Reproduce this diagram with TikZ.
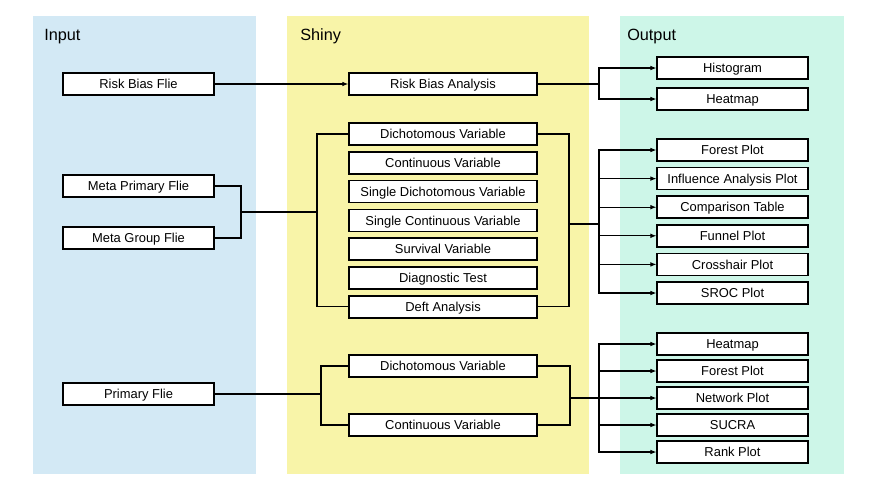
\documentclass[tikz,border=0pt]{standalone}
\usepackage{fontspec}
\setmainfont{Liberation Sans}
\usetikzlibrary{arrows.meta}
\definecolor{inblue}{HTML}{D3E9F5}
\definecolor{shyellow}{HTML}{F8F4A8}
\definecolor{outgreen}{HTML}{CDF6E8}

\begin{document}
\begin{tikzpicture}[x=0.75pt,y=-0.75pt,
        box/.style={draw,line width=1.1pt,fill=white,minimum width=113pt,minimum height=16.5pt,inner sep=0pt,text height=6.9pt,text depth=0pt,font=\fontsize{9.7}{11}\selectfont},
        wbox/.style={box,minimum width=141pt},
        paneltitle/.style={anchor=base west,inner sep=0pt,font=\fontsize{12.2}{14}\selectfont},
        link/.style={line width=0.8pt},
        arr/.style={link,-{Latex[length=4.5pt,width=3.5pt]}}]
        \useasboundingbox (0,0) rectangle (877,493);
        \fill[inblue] (33,16) rectangle (256,474);
        \fill[shyellow] (287,16) rectangle (589,474);
        \fill[outgreen] (620,16) rectangle (844,474);
        \node[paneltitle] (tin) at (44,40) {Input};
        \node[paneltitle] (tsh) at (300,40) {Shiny};
        \node[paneltitle] (tout) at (627,40) {Output};

        \node[box] (rbf) at (138.5,84) {Risk Bias Flie};
        \node[box] (mpf) at (138.5,186) {Meta Primary Flie};
        \node[box] (mgf) at (138.5,238) {Meta Group Flie};
        \node[box] (pf) at (138.5,394) {Primary Flie};

        \node[wbox] (rba) at (443,84) {Risk Bias Analysis};
        \foreach \i/\t in {0/Dichotomous Variable,1/Continuous Variable,2/Single Dichotomous Variable,3/Single Continuous Variable,4/Survival Variable,5/Diagnostic Test,6/Deft Analysis}
            \node[wbox] (m\i) at (443,134+28.8*\i) {\t};
        \node[wbox] (p0) at (443,366) {Dichotomous Variable};
        \node[wbox] (p1) at (443,425) {Continuous Variable};

        \node[box] (hist) at (732.5,68) {Histogram};
        \node[box] (heat) at (732.5,99) {Heatmap};
        \foreach \i/\t in {0/Forest Plot,1/Influence Analysis Plot,2/Comparison Table,3/Funnel Plot,4/Crosshair Plot,5/SROC Plot}
            \node[box] (mo\i) at (732.5,150+28.6*\i) {\t};
        \foreach \i/\t in {0/Heatmap,1/Forest Plot,2/Network Plot,3/SUCRA,4/Rank Plot}
            \node[box] (po\i) at (732.5,344+27*\i) {\t};

        \coordinate (ra) at (599,84);
        \coordinate (ma) at (241,212);
        \coordinate (mb) at (317,212);
        \coordinate (mc) at (569,224);
        \coordinate (md) at (599,224);
        \coordinate (pa) at (321,394);
        \coordinate (pb) at (570,398);
        \coordinate (pc) at (599,398);

        \draw[arr] (rbf) -- (rba);
        \draw[link] (rba.east) -- (ra);
        \draw[arr] (ra) |- (hist.west);
        \draw[arr] (ra) |- (heat.west);

        \draw[link] (mpf.east) -| (ma) |- (mgf.east);
        \draw[link] (ma) -- (mb);
        \draw[link] (m0.west) -| (mb) |- (m6.west);
        \draw[link] (m0.east) -| (mc) |- (m6.east);
        \draw[link] (mc) -- (md);
        \foreach \i in {0,...,5}
            \draw[arr] (md) |- (mo\i.west);

        \draw[link] (pf.east) -- (pa);
        \draw[link] (p0.west) -| (pa) |- (p1.west);
        \draw[link] (p0.east) -| (pb) |- (p1.east);
        \draw[link] (pb) -- (pc);
        \foreach \i in {0,...,4}
            \draw[arr] (pc) |- (po\i.west);
\end{tikzpicture}
\end{document}
